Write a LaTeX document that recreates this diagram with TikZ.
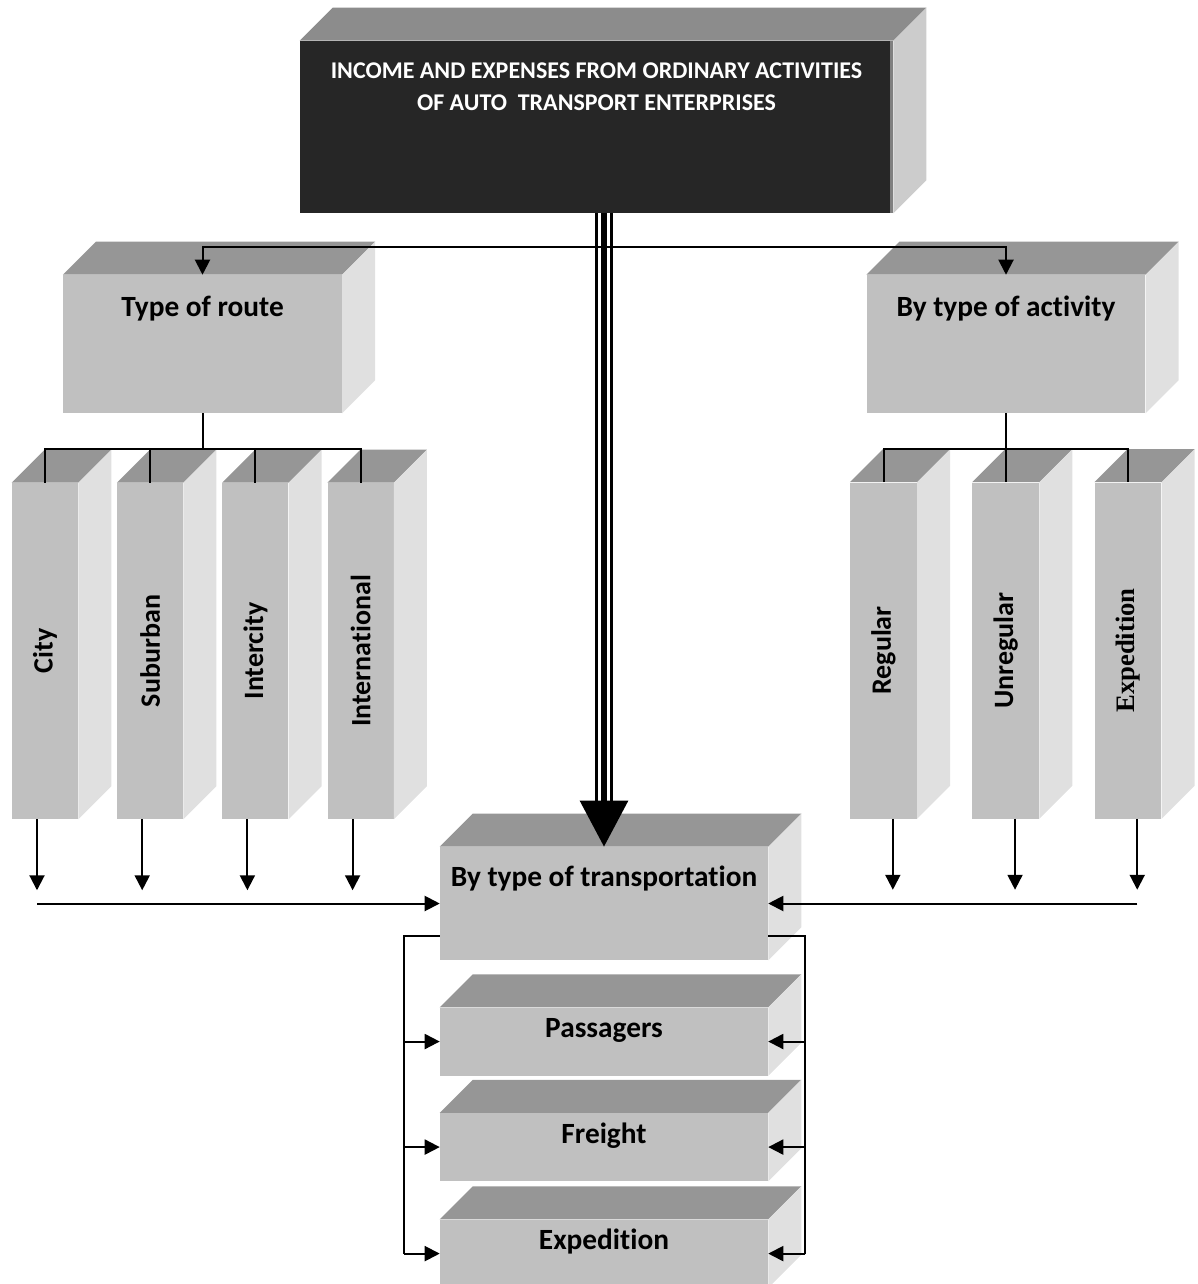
\documentclass[tikz,border=0pt]{standalone}
\usepackage{fontspec}
\setmainfont{Carlito}[Ligatures=NoCommon]
\newfontfamily\timesfont{Liberation Serif}
\usetikzlibrary{arrows.meta, positioning}
\definecolor{frontGray}{RGB}{192,192,192}
\definecolor{topGray}{RGB}{150,150,150}
\definecolor{sideGray}{RGB}{224,224,224}
\definecolor{mainDark}{RGB}{38,38,38}
\definecolor{mainTop}{RGB}{140,140,140}
\definecolor{mainSide}{RGB}{204,204,204}
\newcommand{\cdepth}{24.75pt}

\begin{document}
\begin{tikzpicture}[x=0.75pt, y=-0.75pt,
  node distance=29pt and 29pt,
  cube/.style={fill=frontGray, inner sep=0pt, font=\fontsize{22}{26}\selectfont\bfseries},
  head/.style={cube, minimum width=209pt, text height=30.75pt, text depth=72.75pt},
  col/.style={cube, minimum width=49.5pt, minimum height=252pt, font=\fontsize{21}{25}\selectfont\bfseries},
  slab/.style={cube, minimum width=246pt, text height=22.5pt, text depth=28.5pt},
  link/.style={line width=1.5pt},
  arrow/.style={link, -{Triangle[length=11.25pt, width=11.25pt]}},
]
  \useasboundingbox (0,0) rectangle (1198,1284);
  \clip (0,0) rectangle (1198,1284);

  % top box
  \node[fill=mainDark, inner sep=0pt, minimum width=444.75pt, text height=52.5pt,
    text depth=76.5pt, align=center, text=white,
    font=\fontsize{18}{24}\selectfont\bfseries] (main) at (596.5,127)
    {INCOME AND EXPENSES FROM ORDINARY ACTIVITIES\\OF AUTO\ \ TRANSPORT ENTERPRISES};
  \fill[mainTop] (main.north west) -- ++(\cdepth,\cdepth)
    -- ([shift={(\cdepth,\cdepth)}]main.north east) -- (main.north east) -- cycle;
  \fill[mainSide] (main.north east) -- ++(\cdepth,\cdepth)
    -- ([shift={(\cdepth,\cdepth)}]main.south east) -- (main.south east) -- cycle;
  \draw[line width=2.25pt, gray] ([xshift=-1.1pt]main.north east) -- ([xshift=-1.1pt]main.south east);

  \node[head] (route) at (202.5,344) {Type of route};
  \node[head] (activity) at (1006,344) {By type of activity};

  \node[col] (city) at (45,651) {\rotatebox{90}{City}};
  \node[col, right=29pt of city] (suburb) {\rotatebox{90}{Suburban}};
  \node[col, right=29pt of suburb] (intercity) {\rotatebox{90}{Intercity}};
  \node[col, right=29pt of intercity] (intl) {\rotatebox{90}{International}};

  \node[col, minimum width=50pt] (regular) at (883.5,650.5) {\rotatebox{90}{Regular}};
  \node[col, minimum width=50pt, right=41.25pt of regular] (unregular) {\rotatebox{90}{Unregular}};
  \node[col, minimum width=50pt, right=41.25pt of unregular] (expact)
    {\rotatebox{90}{\timesfont\fontsize{20}{22}\selectfont Expedition}};

  \node[slab, text height=29.25pt, text depth=55.5pt] (transport) at (604,903.5) {By type of transportation};
  \node[slab, below=35.25pt of transport] (pass) {Passagers};
  \node[slab, below=27.75pt of pass] (freight) {Freight};
  \node[slab, below=28.5pt of freight] (expb) {Expedition};

  % top and side faces
  \foreach \n in {route,activity,city,suburb,intercity,intl,regular,unregular,expact,transport,pass,freight,expb} {
    \fill[topGray] (\n.north west) -- ++(\cdepth,\cdepth)
      -- ([shift={(\cdepth,\cdepth)}]\n.north east) -- (\n.north east) -- cycle;
    \fill[sideGray] (\n.north east) -- ++(\cdepth,\cdepth)
      -- ([shift={(\cdepth,\cdepth)}]\n.south east) -- (\n.south east) -- cycle;
  }

  % main triple arrow
  \draw[line width=13.5pt] (main.south -| transport.north) -- ([yshift=34pt]transport.north);
  \draw[line width=9pt, white] (main.south -| transport.north) -- ([yshift=34pt]transport.north);
  \draw[line width=4.5pt, -{Triangle[length=34.5pt, width=35.25pt]}] (main.south -| transport.north) -- (transport.north);

  \coordinate (split) at (604,247);
  \draw[arrow] (split) -| (route.north);
  \draw[arrow] (split) -| (activity.north);

  \coordinate (rbus) at ([yshift=-27pt]route.south);
  \draw[link] (route.south) -- (rbus);
  \draw[link] (city.north) |- (rbus) -| (intl.north);
  \draw[link] (suburb.north) -- (suburb.north |- rbus);
  \draw[link] (intercity.north) -- (intercity.north |- rbus);

  \coordinate (abus) at ([yshift=-27pt]activity.south);
  \draw[link] (activity.south) -- (abus);
  \draw[link] (regular.north) |- (abus) -| (expact.north);
  \draw[link] (unregular.north) -- (unregular.north |- abus);

  \foreach \n in {city,suburb,intercity,intl}
    \draw[arrow] ([xshift=-6pt]\n.south) -- ++(0,71);
  \foreach \n in {regular,unregular,expact}
    \draw[arrow] ([xshift=7pt]\n.south) -- ++(0,71);

  \coordinate (lstart) at ([xshift=-6pt]city.south);
  \draw[arrow] (lstart |- transport.west) -- (transport.west);
  \coordinate (rstart) at ([xshift=7pt]expact.south);
  \draw[arrow] (rstart |- transport.east) -- (transport.east);

  % side brackets
  \coordinate (lb) at ([xshift=-27pt, yshift=18pt]transport.south west);
  \draw[link] ([yshift=18pt]transport.south west) -- (lb) -- (lb |- expb.west);
  \foreach \n in {pass,freight,expb}
    \draw[arrow] (lb |- \n.west) -- (\n.west);
  \coordinate (rb) at ([xshift=27.75pt, yshift=18pt]transport.south east);
  \draw[link] ([yshift=18pt]transport.south east) -- (rb) -- (rb |- expb.east);
  \foreach \n in {pass,freight,expb}
    \draw[arrow] (rb |- \n.east) -- (\n.east);
\end{tikzpicture}
\end{document}
